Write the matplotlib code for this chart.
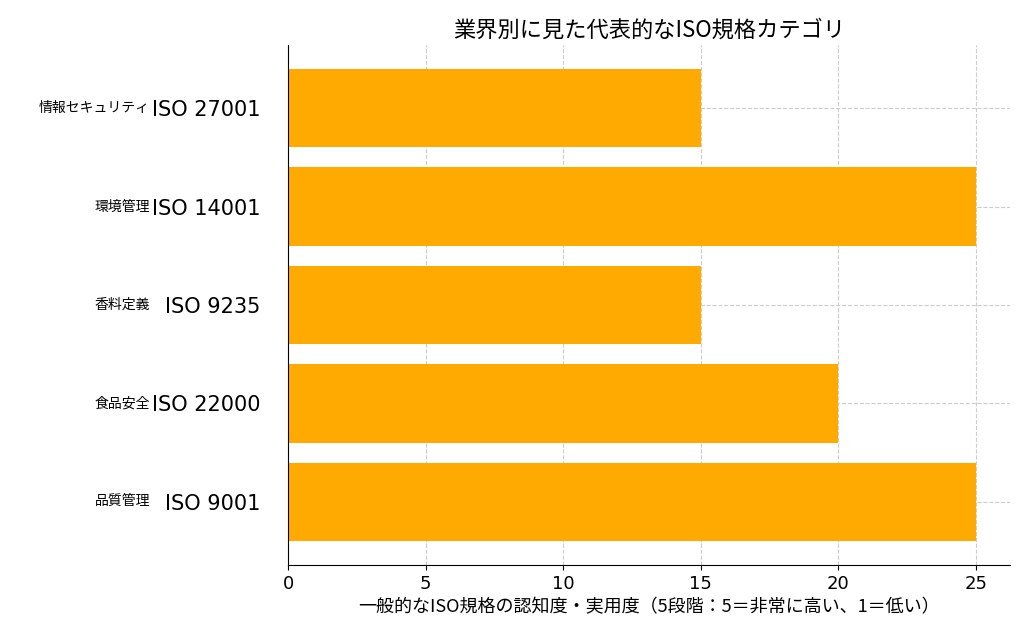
import matplotlib.pyplot as plt

plt.rcParams['font.family'] = ['DejaVu Sans', 'Noto Sans CJK JP']

standards = ['ISO 9001', 'ISO 22000', 'ISO 9235', 'ISO 14001', 'ISO 27001']
categories = ['品質管理', '食品安全', '香料定義', '環境管理', '情報セキュリティ']
scores = [25, 20, 15, 25, 15]

fig = plt.figure(figsize=(10.24, 6.35), dpi=100)
ax = fig.add_axes([288 / 1024, 1 - 565 / 635, 722 / 1024, 520 / 635])

ax.barh(range(len(standards)), scores, height=0.8, color='#FFAA00', zorder=2)
ax.set_yticks(range(len(standards)))
ax.set_yticklabels(standards, fontsize=15)
ax.set_ylim(-0.64, 4.64)
ax.set_xlim(0, 26.24)
ax.tick_params(axis='x', labelsize=13)
ax.tick_params(axis='y', length=0, pad=20)
ax.grid(True, linestyle='--', color='#cccccc', zorder=0)
ax.spines['top'].set_visible(False)
ax.spines['right'].set_visible(False)

ax.set_title('業界別に見た代表的なISO規格カテゴリ', fontsize=16,
             fontfamily='Noto Sans CJK JP')
ax.set_xlabel('一般的なISO規格の認知度・実用度（5段階：5＝非常に高い、1＝低い）',
              fontsize=13, fontfamily='Noto Sans CJK JP')

# category names left of the standard labels
for i, name in enumerate(categories):
    y = ax.transData.transform((0, i))[1] / 635
    fig.text(150 / 1024, y, name, ha='right', va='center', fontsize=10,
             fontfamily='Noto Sans CJK JP')

fig.savefig('out.png', dpi=100)
